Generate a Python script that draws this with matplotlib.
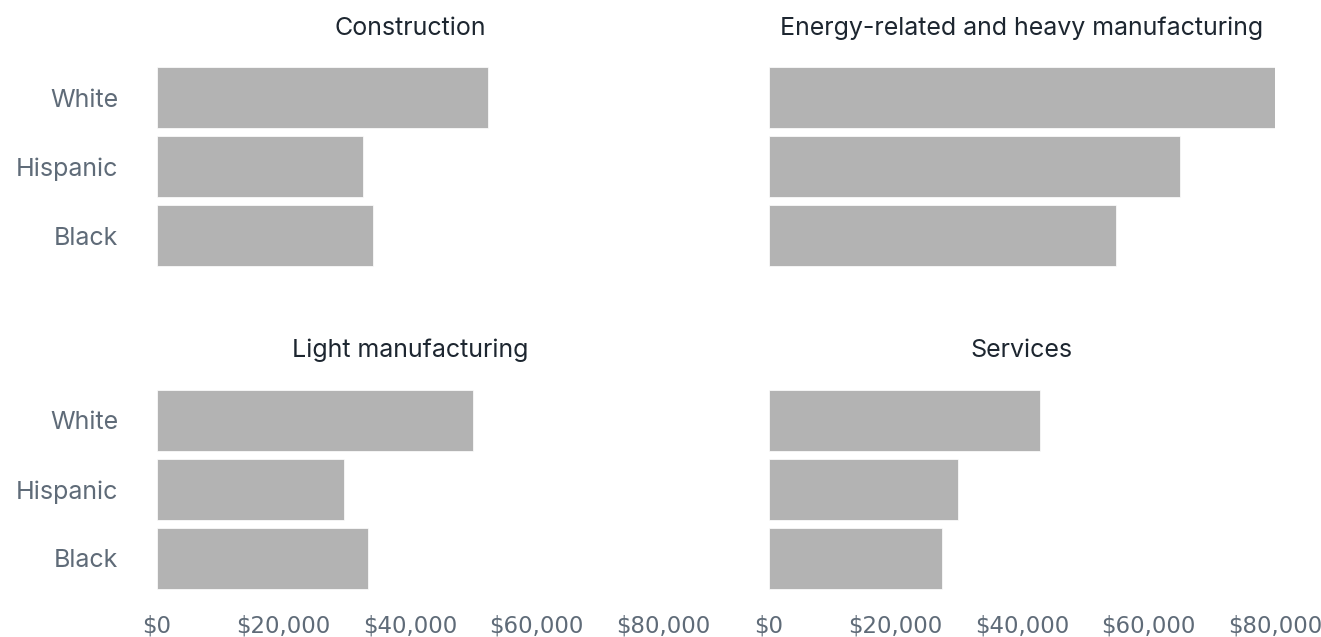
import matplotlib
matplotlib.use("Agg")
import matplotlib.pyplot as plt
from matplotlib.ticker import FuncFormatter

groups = ["White", "Hispanic", "Black"]
titles = ["Construction", "Energy-related and heavy manufacturing",
          "Light manufacturing", "Services"]
construction = [52300, 32500, 34200]
energy = [80100, 65000, 54900]
light = [50000, 29600, 33400]
services = [42900, 29900, 27400]
xticks = [0, 20000, 40000, 60000, 80000]

BAR = "#b3b3b3"
TITLE_C = "#1d2630"
LABEL_C = "#5f6b78"

fig = plt.figure(figsize=(13.21, 6.37), dpi=100)

# axes boxes in figure fractions: left, bottom, width, height
boxes = [
    [0.1188, 0.5761, 0.3831, 0.325],
    [0.5821, 0.5761, 0.3831, 0.325],
    [0.1188, 0.0691, 0.3831, 0.325],
    [0.5821, 0.0691, 0.3831, 0.325],
]
series = [construction, energy, light, services]

for i, (box, vals, title) in enumerate(zip(boxes, series, titles)):
    ax = fig.add_axes(box)
    ax.barh(range(len(groups)), vals, height=0.88, color=BAR,
            edgecolor="white", linewidth=0.5)
    ax.set_xlim(0, 80000)
    ax.set_ylim(2.5, -0.5)
    ax.set_title(title, fontsize=18, color=TITLE_C, pad=20.5, family="Inter")
    for s in ax.spines.values():
        s.set_visible(False)
    ax.tick_params(length=0)
    if i % 2 == 0:
        ax.set_yticks(range(len(groups)))
        ax.set_yticklabels(groups, fontsize=18, color=LABEL_C, family="Inter")
        ax.tick_params(axis="y", pad=28)
    else:
        ax.set_yticks([])
    if i >= 2:
        ax.set_xticks(xticks)
        ax.xaxis.set_major_formatter(FuncFormatter(lambda v, p: "${:,.0f}".format(v)))
        for lab in ax.get_xticklabels():
            lab.set_fontsize(16.5)
            lab.set_color(LABEL_C)
        ax.tick_params(axis="x", pad=15.5)
    else:
        ax.set_xticks([])

fig.savefig("out.png", dpi=100)
